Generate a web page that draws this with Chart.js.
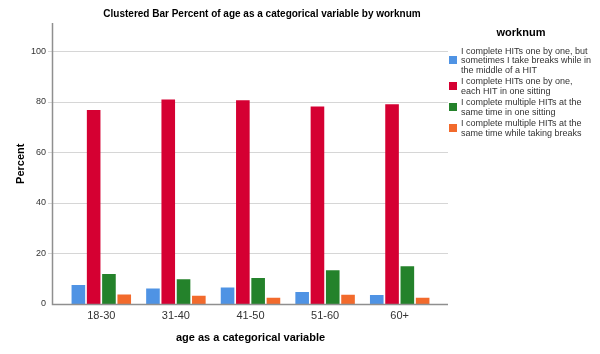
<!DOCTYPE html>
<html>
<head>
<meta charset="utf-8">
<script src="https://cdn.jsdelivr.net/npm/chart.js@4.4.1/dist/chart.umd.min.js"></script>
<style>
  html, body { margin: 0; padding: 0; background: #fff; }
  #wrap { width: 600px; height: 354px; }
</style>
</head>
<body>
<div id="wrap"><canvas id="chart"></canvas></div>
<script>
// categories and values (percent within each age group)
const ageGroups = ["18-30", "31-40", "41-50", "51-60", "60+"];
const oneByOneBreaks = [7.5, 6.1, 6.5, 4.7, 3.6];
const oneByOneSitting = [76.7, 80.9, 80.6, 78.1, 79.0];
const multipleSitting = [11.9, 9.8, 10.3, 13.4, 14.9];
const multipleBreaks = [3.8, 3.3, 2.5, 3.7, 2.5];

const seriesLabels = [
    ["I complete HITs one by one, but", "sometimes I take breaks while in", "the middle of a HIT"],
    ["I complete HITs one by one,", "each HIT in one sitting"],
    ["I complete multiple HITs at the", "same time in one sitting"],
    ["I complete multiple HITs at the", "same time while taking breaks"],
];
const seriesColors = ["#4f93e4", "#d50032", "#24822b", "#f26a2c"];

const yTicks = [0, 20, 40, 60, 80, 100];
const yMax = 111;

const chartTitle = "Clustered Bar Percent of age as a categorical variable by worknum";
const legendTitle = "worknum";

Chart.defaults.font.family = "Arial, 'Liberation Sans', sans-serif";

// grid, axis lines, title and the wrapped legend
const sketchPlugin = {
    id: "sketch",
    beforeDatasetsDraw(chart) {
        const { ctx, chartArea, scales } = chart;
        const left = chartArea.left - 12, right = chartArea.right + 11;
        ctx.save();
        ctx.strokeStyle = "#d6d6d6";
        ctx.lineWidth = 1.2;
        yTicks.forEach(v => {
            if (v === 0) return;
            const y = Math.round(scales.y.getPixelForValue(v)) + 0.5;
            ctx.beginPath();
            ctx.moveTo(left - 4, y);
            ctx.lineTo(right, y);
            ctx.stroke();
        });
        ctx.restore();
    },
    afterDatasetsDraw(chart) {
        const { ctx, chartArea, scales } = chart;
        const left = chartArea.left - 12, right = chartArea.right + 11;
        const y0 = Math.round(scales.y.getPixelForValue(0)) + 0.5;
        ctx.save();
        ctx.strokeStyle = "#8f8f8f";
        ctx.lineWidth = 1.5;
        ctx.beginPath();
        ctx.moveTo(left + 0.5, Math.round(scales.y.getPixelForValue(yMax)));
        ctx.lineTo(left + 0.5, y0);
        ctx.lineTo(right, y0);
        ctx.stroke();
        ctx.restore();
    },
    afterDraw(chart) {
        const { ctx } = chart;
        ctx.save();
        ctx.fillStyle = "#000";
        ctx.textAlign = "center";
        ctx.textBaseline = "middle";
        ctx.font = "bold 10px Arial, 'Liberation Sans', sans-serif";
        ctx.fillText(chartTitle, 262, 14);
        ctx.font = "bold 11px Arial, 'Liberation Sans', sans-serif";
        ctx.fillText(legendTitle, 521, 33);

        // legend items
        ctx.textAlign = "left";
        ctx.font = "9px Arial, 'Liberation Sans', sans-serif";
        const lineH = 9.3;
        let y = 51.7;
        chart.data.datasets.forEach((ds, i) => {
            const lines = seriesLabels[i];
            const mid = y + (lines.length - 1) * lineH / 2;
            ctx.fillStyle = ds.backgroundColor;
            ctx.fillRect(449, Math.round(mid - 5), 8, 8);
            ctx.fillStyle = "#333";
            lines.forEach((t, k) => ctx.fillText(t, 461, y + k * lineH));
            y += lines.length * lineH + 2.4;
        });
        ctx.restore();
    },
};

new Chart(document.getElementById("chart"), {
    type: "bar",
    data: {
        labels: ageGroups,
        datasets: [
            { label: seriesLabels[0].join(" "), data: oneByOneBreaks, backgroundColor: seriesColors[0] },
            { label: seriesLabels[1].join(" "), data: oneByOneSitting, backgroundColor: seriesColors[1] },
            { label: seriesLabels[2].join(" "), data: multipleSitting, backgroundColor: seriesColors[2] },
            { label: seriesLabels[3].join(" "), data: multipleBreaks, backgroundColor: seriesColors[3] },
        ],
    },
    options: {
        responsive: true,
        maintainAspectRatio: false,
        animation: false,
        categoryPercentage: 0.82,
        barPercentage: 0.89,
        layout: { padding: { top: 23, right: 163, bottom: 0, left: 0 } },
        plugins: {
            legend: { display: false },
            title: { display: false },
            tooltip: { enabled: false },
        },
        scales: {
            x: {
                grid: { display: false, drawTicks: false },
                border: { display: false },
                ticks: { color: "#333", font: { size: 11 }, padding: 5 },
                title: {
                    display: true,
                    text: "age as a categorical variable",
                    color: "#000",
                    font: { size: 11, weight: "bold" },
                    padding: { top: 0, bottom: 9 },
                },
                afterFit(scale) { scale.height = 50; },
            },
            y: {
                min: 0,
                max: yMax,
                afterBuildTicks(scale) { scale.ticks = yTicks.map(v => ({ value: v })); },
                grid: { display: false, drawTicks: false },
                border: { display: false },
                ticks: { color: "#333", font: { size: 9 }, padding: 18 },
                title: {
                    display: true,
                    text: "Percent",
                    color: "#000",
                    font: { size: 11, weight: "bold" },
                    padding: { top: 14, bottom: 0 },
                },
                afterFit(scale) { scale.width = 64; },
            },
        },
    },
    plugins: [sketchPlugin],
});
</script>
</body>
</html>
